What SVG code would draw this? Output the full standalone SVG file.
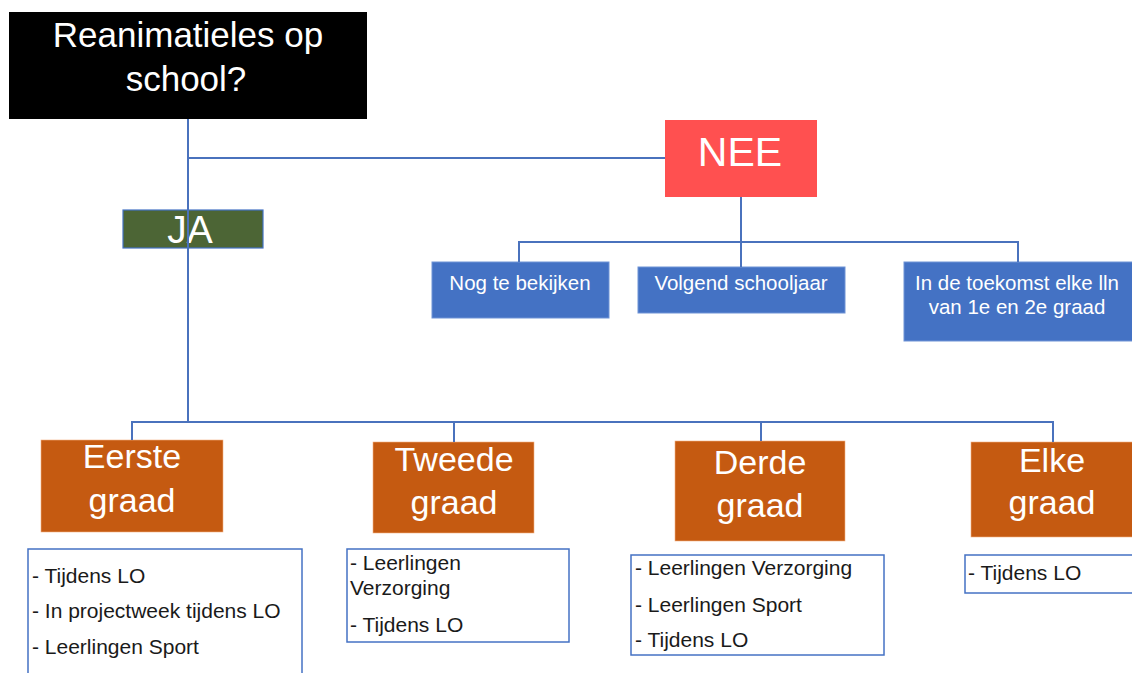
<svg xmlns="http://www.w3.org/2000/svg" width="1132" height="673" viewBox="0 0 1132 673">
<style>
  text { font-family: "Liberation Sans", Arial, sans-serif; }
  .w { fill: #ffffff; }
  .k { fill: #1a1a1a; font-size: 21px; }
  .mid { text-anchor: middle; }
  .blue { fill: #4472c4; stroke: #6e93d6; stroke-width: 1; }
  .orange { fill: #c55a11; stroke: #f4b183; stroke-width: 0.6; }
  .list { fill: #ffffff; stroke: #4472c4; stroke-width: 1.5; }
  .conn { fill: none; stroke: #4a72bd; stroke-width: 2; }
  .big { font-size: 34px; }
  .sm { font-size: 20.5px; }
</style>
<rect width="1132" height="673" fill="#ffffff"/>

<g id="title">
  <rect x="9" y="12" width="358" height="107" fill="#000000"/>
  <text class="w mid" x="188" y="47" font-size="35">Reanimatieles op</text>
  <text class="w mid" x="186" y="91" font-size="35">school?</text>
</g>

<g id="ja">
  <rect x="123" y="210" width="140" height="38" fill="#4c6535" stroke="#4472c4" stroke-width="1.2"/>
  <text class="w mid" x="190" y="243" font-size="39">JA</text>
</g>

<g id="nee">
  <rect x="665" y="120" width="152" height="77" fill="#ff5050"/>
  <text class="w mid" x="740" y="166" font-size="41">NEE</text>
</g>

<g id="nog">
  <rect class="blue" x="432" y="262" width="177" height="56"/>
  <text class="w mid sm" x="520" y="290">Nog te bekijken</text>
</g>

<g id="volgend">
  <rect class="blue" x="638" y="267" width="207" height="46"/>
  <text class="w mid sm" x="741" y="290">Volgend schooljaar</text>
</g>

<g id="toekomst">
  <rect class="blue" x="904" y="262" width="230" height="79"/>
  <text class="w mid sm" x="1017" y="290">In de toekomst elke lln</text>
  <text class="w mid sm" x="1017" y="314">van 1e en 2e graad</text>
</g>

<g id="eerste">
  <rect class="orange" x="41" y="440" width="182" height="92"/>
  <text class="w mid big" x="132" y="468">Eerste</text>
  <text class="w mid big" x="132" y="512">graad</text>
</g>

<g id="tweede">
  <rect class="orange" x="373" y="442" width="161" height="91"/>
  <text class="w mid big" x="454" y="471">Tweede</text>
  <text class="w mid big" x="454" y="514">graad</text>
</g>

<g id="derde">
  <rect class="orange" x="675" y="441" width="170" height="100"/>
  <text class="w mid big" x="760" y="474">Derde</text>
  <text class="w mid big" x="760" y="517">graad</text>
</g>

<g id="elke">
  <rect class="orange" x="971" y="442" width="170" height="95"/>
  <text class="w mid big" x="1052" y="472">Elke</text>
  <text class="w mid big" x="1052" y="514">graad</text>
</g>

<g id="eerste-list">
  <rect class="list" x="28" y="549" width="274" height="135"/>
  <text class="k" x="32" y="583">- Tijdens LO</text>
  <text class="k" x="32" y="618">- In projectweek tijdens LO</text>
  <text class="k" x="32" y="654">- Leerlingen Sport</text>
</g>

<g id="tweede-list">
  <rect class="list" x="347" y="549" width="222" height="93"/>
  <text class="k" x="350" y="570">- Leerlingen</text>
  <text class="k" x="350" y="595">Verzorging</text>
  <text class="k" x="350" y="632">- Tijdens LO</text>
</g>

<g id="derde-list">
  <rect class="list" x="631" y="555" width="253" height="100"/>
  <text class="k" x="635" y="575">- Leerlingen Verzorging</text>
  <text class="k" x="635" y="612">- Leerlingen Sport</text>
  <text class="k" x="635" y="647">- Tijdens LO</text>
</g>

<g id="elke-list">
  <rect class="list" x="965" y="555" width="180" height="38"/>
  <text class="k" x="968" y="580">- Tijdens LO</text>
</g>

<g id="connectors">
  <path class="conn" d="M188 119 V422"/>
  <path class="conn" d="M188 158 H665"/>
  <path class="conn" d="M741 197 V267"/>
  <path class="conn" d="M519 262 V242 H1018 V262"/>
  <path class="conn" d="M132 440 V422 H1053 V442"/>
  <path class="conn" d="M454 422 V442"/>
  <path class="conn" d="M761 422 V441"/>
</g>
</svg>
